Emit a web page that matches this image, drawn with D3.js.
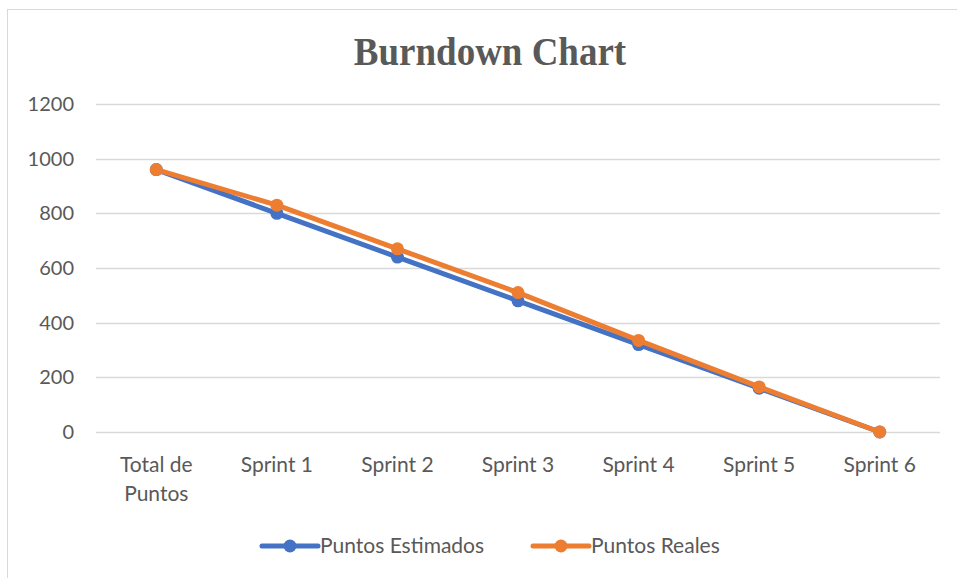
<!DOCTYPE html>
<html>
<head>
<meta charset="utf-8">
<script src="https://cdn.jsdelivr.net/npm/d3@7"></script>
<style>
  body { margin: 0; background: #fff; }
  svg { display: block; }
</style>
</head>
<body>
<div id="chart"></div>
<script>
var categories = ["Total de Puntos", "Sprint 1", "Sprint 2", "Sprint 3", "Sprint 4", "Sprint 5", "Sprint 6"];
var estimados = [960, 800, 640, 480, 320, 160, 0];
var reales = [960, 830, 670, 510, 335, 165, 0];
var yTicks = [0, 200, 400, 600, 800, 1000, 1200];

var series = [
    { name: "Puntos Estimados", values: estimados, color: "#4472C4" },
    { name: "Puntos Reales", values: reales, color: "#ED7D31" }
];

var width = 957, height = 578;
var margin = { top: 104, left: 96, right: 17, bottom: 146 };
var textFont = "Lato, 'Open Sans', sans-serif";

var svg = d3.select("#chart").append("svg")
    .attr("width", width)
    .attr("height", height);

// chart border
svg.append("rect")
    .attr("x", 7.5).attr("y", 9.5)
    .attr("width", width + 10).attr("height", height + 10)
    .attr("fill", "none")
    .attr("stroke", "#d9d9d9");

svg.append("text")
    .attr("transform", "translate(490,65) scale(1,1.1)")
    .attr("text-anchor", "middle")
    .attr("font-family", "'Liberation Serif', 'Times New Roman', serif")
    .attr("font-weight", "bold")
    .attr("font-size", 37)
    .attr("fill", "#595959")
    .text("Burndown Chart");

var x = d3.scaleBand()
    .domain(categories)
    .range([margin.left, width - margin.right]);

var y = d3.scaleLinear()
    .domain([0, 1200])
    .range([height - margin.bottom, margin.top]);

// gridlines
svg.append("g")
    .selectAll("line")
    .data(yTicks)
    .enter().append("line")
    .attr("x1", margin.left)
    .attr("x2", width - margin.right)
    .attr("y1", function (d) { return Math.round(y(d)) + 0.5; })
    .attr("y2", function (d) { return Math.round(y(d)) + 0.5; })
    .attr("stroke", "#d9d9d9")
    .attr("stroke-width", 1.3);

// y axis labels
var yAxis = d3.axisLeft(y).tickValues(yTicks).tickFormat(d3.format("d")).tickSize(0).tickPadding(0);
var gy = svg.append("g")
    .attr("transform", "translate(" + 74 + ",0)")
    .call(yAxis);
gy.select(".domain").remove();
gy.selectAll("text")
    .attr("font-family", textFont)
    .attr("font-size", 20)
    .attr("fill", "#595959");

// x axis labels
var xAxis = d3.axisBottom(x).tickSize(0).tickPadding(0);
var gx = svg.append("g")
    .attr("transform", "translate(0," + 472 + ")")
    .call(xAxis);
gx.select(".domain").remove();
gx.selectAll("text")
    .attr("font-family", textFont)
    .attr("font-size", 21)
    .attr("fill", "#595959")
    .attr("dy", 0)
    .each(function (d) {
        var t = d3.select(this);
        if (d == "Total de Puntos") {
            t.text(null);
            t.append("tspan").attr("x", 0).attr("dy", 0).text("Total de");
            t.append("tspan").attr("x", 0).attr("dy", 29).text("Puntos");
        }
    });

var line = d3.line()
    .x(function (d, i) { return x(categories[i]) + x.bandwidth() / 2; })
    .y(function (d) { return y(d); });

series.forEach(function (s) {
    var g = svg.append("g");
    g.append("path")
        .datum(s.values)
        .attr("d", line)
        .attr("fill", "none")
        .attr("stroke", s.color)
        .attr("stroke-width", 5)
        .attr("stroke-linejoin", "round");
    g.selectAll("circle")
        .data(s.values)
        .enter().append("circle")
        .attr("cx", function (d, i) { return x(categories[i]) + x.bandwidth() / 2; })
        .attr("cy", function (d) { return y(d); })
        .attr("r", 6.5)
        .attr("fill", s.color);
});

// legend
var legendX = [262, 533];
var legend = svg.append("g")
    .selectAll("g")
    .data(series)
    .enter().append("g")
    .attr("transform", function (d, i) { return "translate(" + legendX[i] + ",546)"; });
legend.append("line")
    .attr("x1", 0).attr("x2", 56)
    .attr("stroke", function (d) { return d.color; })
    .attr("stroke-width", 5)
    .attr("stroke-linecap", "round");
legend.append("circle")
    .attr("cx", 28).attr("r", 6.5)
    .attr("fill", function (d) { return d.color; });
legend.append("text")
    .attr("x", 58).attr("dy", "0.35em")
    .attr("font-family", textFont)
    .attr("font-size", 21)
    .attr("fill", "#595959")
    .text(function (d) { return d.name; });
</script>
</body>
</html>
